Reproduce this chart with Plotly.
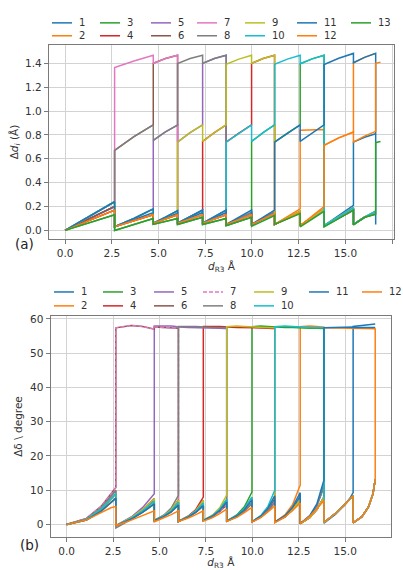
import plotly.graph_objects as go

# Slip events along d_R3 (Å); consecutive entries bound the intervals I0..I11
EVENTS = [0.0, 2.65, 4.72, 6.02, 7.36, 8.62, 9.98, 11.21, 12.58, 13.86, 15.43, 16.62, 16.88]

SERIES_A = [str(i) for i in range(1, 14)]   # bonds
SERIES_B = [str(i) for i in range(1, 13)]   # angles
COLORS = ["#1f77b4", "#ff7f0e", "#2ca02c", "#d62728", "#9467bd", "#8c564b",
          "#e377c2", "#7f7f7f", "#bcbd22", "#17becf", "#1f77b4", "#ff7f0e", "#2ca02c"]

# ---------------- (a) bond-length change  Δd_i (Å) ----------------
# values at start / middle / end of each interval
A_HIGH = {1: (1.364, 1.420, 1.467), 2: (1.400, 1.440, 1.467), 3: (1.398, 1.440, 1.467),
          4: (1.400, 1.440, 1.467), 5: (1.392, 1.435, 1.467), 6: (1.400, 1.440, 1.467),
          7: (1.392, 1.435, 1.467), 8: (1.396, 1.437, 1.467), 9: (1.390, 1.442, 1.483),
          10: (1.405, 1.450, 1.483), 11: (1.400, 1.405, 1.410)}
A_MID = {1: (0.671, 0.785, 0.884), 2: (0.755, 0.825, 0.882), 3: (0.740, 0.820, 0.885),
         4: (0.745, 0.820, 0.885), 5: (0.740, 0.815, 0.885), 6: (0.745, 0.820, 0.885),
         7: (0.740, 0.815, 0.885), 8: (0.745, 0.815, 0.885), 9: (0.713, 0.775, 0.824),
         10: (0.740, 0.790, 0.830), 11: (0.735, 0.740, 0.745)}
A_PLATEAU = {8: (0.840, 0.845, 0.845)}
A_SIDE_MID = {10: (0.740, 0.780, 0.810)}
A_LOW_G = {0: (0.0, 0.065, 0.13), 1: (0.0, 0.05, 0.10), 2: (0.05, 0.075, 0.10),
           3: (0.05, 0.08, 0.11), 4: (0.05, 0.075, 0.10), 5: (0.04, 0.075, 0.11),
           6: (0.035, 0.08, 0.125), 7: (0.05, 0.095, 0.14), 8: (0.03, 0.095, 0.16),
           9: (0.03, 0.10, 0.17), 10: (0.047, 0.11, 0.135)}
A_LOW_L = {0: (0.0, 0.085, 0.17), 1: (0.03, 0.08, 0.13), 2: (0.06, 0.095, 0.13),
           3: (0.06, 0.095, 0.13), 4: (0.06, 0.095, 0.13), 5: (0.05, 0.09, 0.13),
           6: (0.05, 0.095, 0.14), 7: (0.05, 0.10, 0.15), 8: (0.04, 0.105, 0.17),
           9: (0.04, 0.105, 0.17), 10: (0.05, 0.11, 0.15)}
A_LOW_M = {0: (0.0, 0.10, 0.20), 1: (0.03, 0.09, 0.15), 2: (0.06, 0.10, 0.145),
           3: (0.06, 0.105, 0.15), 4: (0.06, 0.105, 0.15), 5: (0.05, 0.10, 0.15),
           6: (0.05, 0.10, 0.155), 7: (0.05, 0.105, 0.16), 8: (0.04, 0.11, 0.18),
           9: (0.04, 0.115, 0.19), 10: (0.05, 0.11, 0.16)}
A_LOW_T = {0: (0.0, 0.12, 0.24), 1: (0.03, 0.10, 0.18), 2: (0.06, 0.11, 0.165),
           3: (0.06, 0.115, 0.17), 4: (0.06, 0.115, 0.17), 5: (0.05, 0.11, 0.17),
           6: (0.05, 0.11, 0.17), 7: (0.05, 0.115, 0.18), 8: (0.04, 0.12, 0.20),
           9: (0.04, 0.125, 0.21), 10: (0.05, 0.11, 0.17)}
A_DROP = 0.05
A_LEVELS = {"H": A_HIGH, "M": A_MID, "O": A_PLATEAU, "B": A_SIDE_MID,
            "G": A_LOW_G, "l": A_LOW_L, "m": A_LOW_M, "t": A_LOW_T}
# state of every bond in I0..I11
A_STATES = {
    "1":  "m m m m m m m m m t B -",
    "2":  "l l l l l l l t O M H -",
    "3":  "G G G G G G M M H G G -",
    "4":  "l l l t M M H l l l l -",
    "5":  "m t M M H l l l l l l -",
    "6":  "m M H l l l l l l l l -",
    "7":  "t H H l l l l l l l l -",
    "8":  "t M M H H m m m m m m -",
    "9":  "t t t M M H H m m m m -",
    "10": "t t t t t M M H H m m -",
    "11": "t t t t t t t M M H H d",
    "12": "l l l l l l l l t M M H",
    "13": "G G G G G G G G G G G M",
}

# ---------------- (b) angle change  Δδ (degree) ----------------
# values at 0, 40, 70, 90 and 100 % of each interval
B_NEW = {1: (57.4, 58.1, 57.8, 57.3, 57.0), 2: (57.9, 58.0, 57.9, 57.8, 57.7),
         3: (57.8, 57.9, 57.8, 57.7, 57.6), 4: (57.8, 57.9, 57.8, 57.7, 57.6),
         5: (57.7, 57.9, 57.8, 57.7, 57.6), 6: (57.7, 57.9, 57.8, 57.7, 57.6),
         7: (57.7, 57.9, 57.8, 57.7, 57.6), 8: (57.7, 57.9, 57.8, 57.7, 57.6),
         9: (57.4, 57.5, 57.6, 57.6, 57.6), 10: (57.8, 58.1, 58.3, 58.4, 58.5),
         11: (57.3,)}
B_HELD = {2: (57.6, 57.5, 57.5, 57.4, 57.3), 3: (57.6, 57.5, 57.5, 57.4, 57.4),
          4: (57.6, 57.5, 57.5, 57.4, 57.4), 5: (57.6, 57.5, 57.5, 57.4, 57.4),
          6: (57.6, 57.5, 57.5, 57.4, 57.4), 7: (57.6, 57.5, 57.5, 57.4, 57.4),
          8: (57.6, 57.5, 57.5, 57.4, 57.4), 9: (57.4, 57.3, 57.3, 57.2, 57.2),
          10: (57.5, 57.5, 57.5, 57.5, 57.5)}
B_HELD2 = {4: (57.4, 57.3, 57.3, 57.2, 57.2), 6: (57.4, 57.3, 57.3, 57.2, 57.2),
           8: (57.4, 57.3, 57.3, 57.2, 57.2), 10: (57.3, 57.2, 57.2, 57.1, 57.1)}
B_LOW_T = {0: (0.0, 1.8, 5.3, 8.8, 10.8), 1: (-0.3, 2.2, 5.0, 7.6, 9.0),
           2: (1.2, 2.8, 4.8, 7.0, 8.5), 3: (0.9, 2.5, 4.4, 6.6, 8.0),
           4: (1.2, 2.8, 4.9, 7.1, 8.6), 5: (1.0, 2.8, 5.2, 7.8, 9.5),
           6: (0.8, 2.7, 5.3, 8.2, 10.0), 7: (0.7, 2.8, 5.8, 9.3, 11.5),
           8: (0.3, 2.6, 6.0, 10.2, 13.0), 9: (0.4, 3.0, 5.6, 7.8, 9.3)}
B_LOW_U = {0: (0.0, 1.6, 4.9, 8.1, 9.9), 1: (-0.3, 2.0, 4.4, 6.5, 7.6),
           2: (1.2, 2.6, 4.3, 6.1, 7.2), 3: (0.9, 2.4, 4.1, 5.9, 7.0),
           4: (1.2, 2.6, 4.4, 6.2, 7.3), 5: (1.0, 2.6, 4.6, 6.7, 8.0),
           6: (0.8, 2.5, 4.7, 7.0, 8.4), 7: (0.7, 2.6, 5.1, 7.8, 9.3),
           8: (0.3, 2.4, 5.5, 9.2, 11.8)}
B_LOW_V = {0: (0.0, 1.5, 4.5, 7.5, 9.0), 1: (-0.3, 1.8, 4.0, 5.9, 6.8),
           2: (1.2, 2.5, 4.0, 5.6, 6.5), 3: (0.9, 2.3, 3.9, 5.4, 6.3),
           4: (1.2, 2.5, 4.1, 5.7, 6.6), 5: (1.0, 2.5, 4.3, 6.1, 7.2),
           6: (0.8, 2.4, 4.4, 6.4, 7.5), 7: (0.7, 2.4, 4.7, 7.0, 8.3),
           8: (0.3, 2.2, 4.9, 7.8, 9.5)}
B_LOW_W = {0: (0.0, 1.3, 3.9, 6.4, 7.7), 1: (-0.3, 1.6, 3.6, 5.2, 6.0),
           2: (1.2, 2.4, 3.7, 5.0, 5.7), 3: (0.9, 2.2, 3.6, 4.9, 5.5),
           4: (1.2, 2.4, 3.8, 5.1, 5.8), 5: (1.0, 2.3, 3.9, 5.4, 6.2),
           6: (0.8, 2.2, 4.0, 5.6, 6.5), 7: (0.7, 2.2, 4.3, 6.2, 7.2),
           8: (0.3, 2.0, 4.4, 6.7, 8.0)}
B_LOW_Z = {0: (0.0, 1.3, 3.5, 4.9, 5.3), 1: (-0.3, 1.3, 2.6, 3.5, 4.0),
           2: (0.8, 1.9, 2.9, 3.6, 4.0), 3: (0.9, 1.9, 2.9, 3.6, 4.0),
           4: (1.0, 2.0, 3.2, 4.1, 4.5), 5: (0.9, 2.1, 3.5, 4.6, 5.0),
           6: (0.7, 2.1, 3.7, 4.9, 5.4), 7: (0.5, 2.2, 4.1, 5.6, 6.3),
           8: (0.3, 2.4, 4.6, 6.3, 7.0), 9: (0.6, 3.3, 5.7, 7.6, 8.4),
           10: (0.5, 2.3, 5.2, 9.0, 13.2)}
B_LOW_GRAY = {1: (-1.0, 1.5, 3.8, 6.2, 7.3)}
B_LEVELS = {"N": B_NEW, "P": B_HELD, "Q": B_HELD2, "T": B_LOW_T, "U": B_LOW_U,
            "V": B_LOW_V, "W": B_LOW_W, "Z": B_LOW_Z, "g": B_LOW_GRAY}
# state of every angle in I0..I11
B_STATES = {
    "1":  "W W W W W W V V U T N -",
    "2":  "W W W V V U U T N P Q -",
    "3":  "V V V U U T N P Q Z Z -",
    "4":  "V U U T N P Q W W Z Z -",
    "5":  "U T N P Q W W W W Z Z -",
    "6":  "T N P W W W W W W Z Z -",
    "7":  "T N P W W W W W W Z Z -",
    "8":  "U g T N P W W W U Z Z -",
    "9":  "V U U U T N P W W Z Z -",
    "10": "V V V V U U T N P Z Z -",
    "11": "W W W W V V U U T N P -",
    "12": "Z Z Z Z Z Z Z Z Z Z Z N",
}


def build(states, levels, fracs):
    xs, ys = [], []
    for k, s in enumerate(states.split()):
        if s == "-":
            continue
        x0, x1 = EVENTS[k], EVENTS[k + 1]
        if s == "d":
            xs.append(x0)
            ys.append(A_DROP)
            continue
        vals = levels[s][k]
        for f, v in zip(fracs, vals):
            xs.append(x0 + f * (x1 - x0))
            ys.append(v)
    return xs, ys


fig = go.Figure()
for i, name in enumerate(SERIES_A):
    x, y = build(A_STATES[name], A_LEVELS, (0.0, 0.5, 1.0))
    fig.add_trace(go.Scatter(x=x, y=y, mode="lines", name=name, showlegend=False,
                             line=dict(color=COLORS[i], width=1.5),
                             xaxis="x", yaxis="y", hoverinfo="skip"))
for i, name in enumerate(SERIES_B):
    x, y = build(B_STATES[name], B_LEVELS, (0.0, 0.4, 0.7, 0.9, 1.0))
    fig.add_trace(go.Scatter(x=x, y=y, mode="lines", name=name, showlegend=False,
                             line=dict(color=COLORS[i], width=1.5,
                                       dash="4px,2px" if name == "7" else "solid"),
                             xaxis="x2", yaxis="y2", hoverinfo="skip"))

W, H = 403, 570
FONT = "DejaVu Sans"
SPINE = "#7a7a7a"
GRID = "#d3d3d3"
TXT = "#333333"

axis_common = dict(showline=True, mirror=True, linecolor=SPINE, linewidth=1.3,
                   ticks="outside", ticklen=4, tickwidth=1, tickcolor=SPINE,
                   showgrid=True, gridcolor=GRID, gridwidth=1, zeroline=False,
                   tickfont=dict(family=FONT, size=10.5, color=TXT))

fig.update_layout(
    width=W, height=H, margin=dict(l=0, r=0, t=0, b=0),
    paper_bgcolor="white", plot_bgcolor="white", showlegend=False,
    xaxis=dict(domain=[49 / W, 394 / W], range=[-0.86, 17.6], tick0=0, dtick=2.5,
               tickformat=".1f", anchor="y",
               title=dict(text="<i>d</i><sub>R3</sub> Å", standoff=4,
                          font=dict(family=FONT, size=10.5, color=TXT)),
               **axis_common),
    yaxis=dict(domain=[1 - 238 / H, 1 - 42 / H], range=[-0.075, 1.556], tick0=0,
               dtick=0.2, tickformat=".1f", anchor="x",
               title=dict(text="Δ<i>d<sub>i</sub></i> (Å)", standoff=4,
                          font=dict(family=FONT, size=10.5, color=TXT)),
               **axis_common),
    xaxis2=dict(domain=[50.7 / W, 391 / W], range=[-0.86, 17.47], tick0=0, dtick=2.5,
                tickformat=".1f", anchor="y2",
                title=dict(text="<i>d</i><sub>R3</sub> Å", standoff=6,
                           font=dict(family=FONT, size=10.5, color=TXT)),
                **axis_common),
    yaxis2=dict(domain=[1 - 538 / H, 1 - 315 / H], range=[-3.7, 60.9], tick0=0,
                dtick=10, anchor="x2",
                title=dict(text="Δδ \\ degree", standoff=5,
                           font=dict(family=FONT, size=10.5, color=TXT)),
                **axis_common),
)

# legends laid out in columns, two entries per column
LEG_A_COLS = [52, 100, 151, 197, 245, 297, 351]
LEG_A_ROWS = [20, 33]
LEG_B_COLS = [54, 103, 154, 203, 254, 309, 362]
LEG_B_ROWS = [291, 305]
LEG_FONT = 10

shapes, annotations = [], []


def add_legend(names, cols, rows, dashed):
    ncol = len(cols)
    full = len(names) - ncol  # columns holding two entries
    idx = 0
    for c in range(ncol):
        count = 2 if c < full else 1
        for r in range(count):
            name = names[idx]
            color = COLORS[int(name) - 1]
            x0 = cols[c]
            y0 = rows[r]
            shapes.append(dict(type="line", xref="paper", yref="paper",
                               x0=x0 / W, x1=(x0 + 20) / W, y0=1 - y0 / H, y1=1 - y0 / H,
                               line=dict(color=color, width=1.5,
                                         dash="4px,2px" if name in dashed else "solid")))
            annotations.append(dict(text=name, xref="paper", yref="paper",
                                    x=(x0 + 25) / W, y=1 - y0 / H, xanchor="left",
                                    yanchor="middle", showarrow=False,
                                    font=dict(family=FONT, size=LEG_FONT, color=TXT)))
            idx += 1


add_legend(SERIES_A, LEG_A_COLS, LEG_A_ROWS, dashed=())
add_legend(SERIES_B, LEG_B_COLS, LEG_B_ROWS, dashed=("7",))

annotations.append(dict(text="(a)", xref="paper", yref="paper", x=13 / W, y=1 - 243 / H,
                        xanchor="left", yanchor="middle", showarrow=False,
                        font=dict(family=FONT, size=13.5, color="#222222")))
annotations.append(dict(text="(b)", xref="paper", yref="paper", x=18 / W, y=1 - 546 / H,
                        xanchor="left", yanchor="middle", showarrow=False,
                        font=dict(family=FONT, size=13.5, color="#222222")))

fig.update_layout(shapes=shapes, annotations=annotations)
fig.write_html("out.html")
